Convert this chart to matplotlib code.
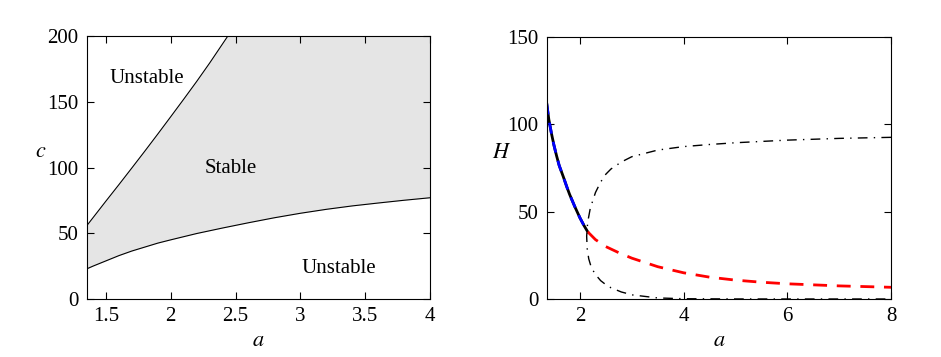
import numpy as np
import matplotlib
matplotlib.use("Agg")
import matplotlib.pyplot as plt

plt.rcParams["font.family"] = ["Liberation Serif", "DejaVu Serif"]
plt.rcParams["mathtext.fontset"] = "stix"

# left panel: stability boundaries in (a, c)
a_up = [1.354, 1.5, 1.6, 1.7, 1.8, 1.9, 2.0, 2.1, 2.2, 2.3, 2.44]
c_up = [56, 74.5, 87, 99.7, 112.5, 125.5, 138.7, 152, 165.5, 179.5, 200]
a_lo = [1.354, 1.4, 1.5, 1.6, 1.7, 1.8, 1.9, 2.0, 2.2, 2.4, 2.6, 2.8,
        3.0, 3.2, 3.4, 3.6, 3.8, 4.0]
c_lo = [23, 25, 29, 33, 36.5, 39.5, 42.5, 45, 49.8, 54, 58, 61.8,
        65.2, 68.2, 70.8, 73, 75.1, 77]

# right panel: H vs a
a_stab = [1.36, 1.4, 1.45, 1.5, 1.55, 1.6, 1.68, 1.75, 1.8, 1.9, 2.0,
          2.08, 2.15]
H_stab = [112, 103, 95, 88, 82, 76.5, 70, 64, 60, 53, 46.5, 42, 38.5]
a_red = [2.15, 2.3, 2.5, 2.75, 3.0, 3.5, 4.0, 4.5, 5.0, 5.5, 6.0, 7.0, 8.0]
H_red = [38.5, 34, 30, 26.5, 23.4, 18.5, 15, 12.5, 10.8, 9.6, 8.7, 7.5, 6.7]
a_dd = [8, 7, 6, 5, 4.5, 4, 3.5, 3, 2.8, 2.6, 2.5, 2.4, 2.3, 2.2, 2.15,
        2.13, 2.14, 2.17, 2.22, 2.3, 2.4, 2.5, 2.6, 2.8, 3.02, 3.5, 4, 5, 6, 8]
H_dd = [92.6, 92, 91, 89.5, 88.5, 87.3, 85.3, 81.5, 78.5, 74.5, 71.5, 67,
        61, 52, 44, 36, 29, 23, 18, 14, 10.5, 8.2, 6.4, 4, 2.3, 0.6, 0.15,
        0.02, 0, 0]

fig = plt.figure(figsize=(9.41, 3.57), dpi=100)
ax1 = fig.add_axes([0.0925, 0.1625, 0.3645, 0.7365])
ax2 = fig.add_axes([0.581, 0.1625, 0.366, 0.7335])

fs = 15

# left
xs = np.linspace(a_lo[0], a_lo[-1], 400)
lo = np.interp(xs, a_lo, c_lo)
up = np.interp(xs, a_up, c_up, right=200)
ax1.fill_between(xs, lo, np.minimum(up, 200), color="#e5e5e5", lw=0)
ax1.plot(a_up, c_up, color="k", lw=0.8)
ax1.plot(a_lo, c_lo, color="k", lw=0.8)
ax1.text(1.815, 168, "Unstable", fontsize=fs, ha="center", va="center")
ax1.text(2.46, 99, "Stable", fontsize=fs, ha="center", va="center")
ax1.text(3.30, 23.5, "Unstable", fontsize=fs, ha="center", va="center")
ax1.set_xlim(1.354, 4)
ax1.set_ylim(0, 200)
ax1.set_xticks([1.5, 2, 2.5, 3, 3.5, 4])
ax1.set_xticklabels(["1.5", "2", "2.5", "3", "3.5", "4"])
ax1.set_yticks([0, 50, 100, 150, 200])
ax1.set_xlabel("$a$", fontsize=fs + 1, labelpad=4)
ax1.set_ylabel("$c$", fontsize=fs + 1, rotation=0)
ax1.yaxis.set_label_coords(-0.135, 0.52)

# right
ax2.plot(a_stab, H_stab, color="k", lw=2)
ax2.plot(a_stab, H_stab, color="b", lw=2, dashes=(4, 3))
ax2.plot(a_red, H_red, color="r", lw=2, dashes=(5, 3.5))
ax2.plot(a_dd, H_dd, color="k", lw=1, dashes=(7, 4.5, 1, 4.5))
ax2.set_xlim(1.36, 8)
ax2.set_ylim(0, 150)
ax2.set_xticks([2, 4, 6, 8])
ax2.set_yticks([0, 50, 100, 150])
ax2.set_xlabel("$a$", fontsize=fs + 1, labelpad=4)
ax2.set_ylabel("$H$", fontsize=fs + 1, rotation=0)
ax2.yaxis.set_label_coords(-0.13, 0.52)

for ax in (ax1, ax2):
    ax.tick_params(direction="in", top=True, right=True, labelsize=fs,
                   length=5, width=0.8, pad=6)
    for s in ax.spines.values():
        s.set_linewidth(0.8)

fig.savefig("out.png", dpi=100)
